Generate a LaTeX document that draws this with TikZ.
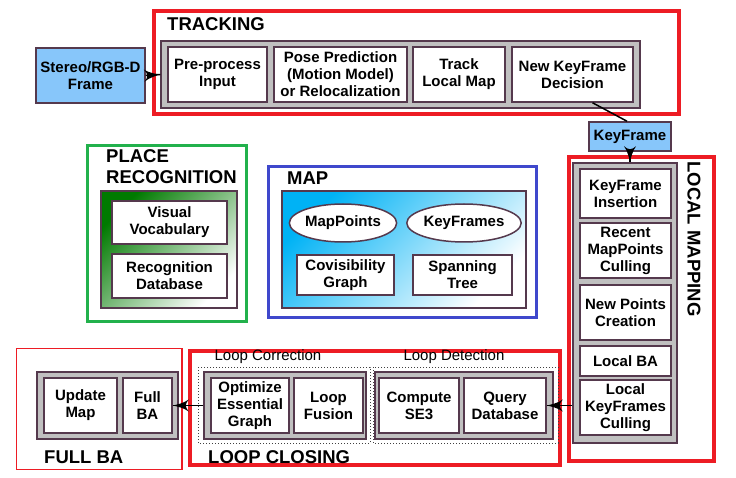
\documentclass[tikz,border=0pt]{standalone}
\usepackage{fontspec}
\setmainfont{Liberation Sans}
\usepackage{tikz}
\usetikzlibrary{arrows}
\usetikzlibrary{decorations.markings}
\usetikzlibrary{shapes.geometric}
\tikzset{->/.style = {decoration={markings,
                                  mark=at position 1 with {\arrow[scale=2.2]{latex'}}},
                      postaction={decorate}}}
\definecolor{mred}{RGB}{237, 28, 36}
\definecolor{mgreen}{RGB}{34, 177, 76}
\definecolor{mblue}{RGB}{63, 72, 204}
\definecolor{mframe}{RGB}{135, 198, 250}
\definecolor{mgray}{RGB}{192, 192, 192}
\definecolor{mborder}{RGB}{85, 57, 77}
\definecolor{mdgreen}{RGB}{0, 122, 0}
\definecolor{mcyan}{RGB}{0, 178, 245}
\tikzset{blk/.style = {draw = mborder, fill = white, line width = 1.5, align = center, inner sep = 0,
                       font = \fontsize{15}{17}\selectfont\bfseries}}
\tikzset{grp/.style = {draw = mborder, fill = mgray, line width = 1.5, inner sep = 0}}
\tikzset{ttl/.style = {font = \fontsize{18.5}{21}\selectfont\bfseries, align = left, inner sep = 0}}
\tikzset{sub/.style = {font = \fontsize{15}{17}\selectfont, inner sep = 0}}
\tikzset{con/.style = {line width = 1.5, black}}

\begin{document}
\begin{tikzpicture}[x = 1pt, y = -1pt]
      \useasboundingbox (0, 0) rectangle (736, 478);

      % tracking
      \draw [mred, line width = 4] (154, 11) rectangle (678.5, 114.5);
      \node [ttl, anchor = west] (trkt) at (167, 24) {TRACKING};
      \node [grp, minimum width = 479, minimum height = 67] (trk) at (400.5, 74.5) {};
      \node [blk, minimum width = 99, minimum height = 55] (pre) at (217.5, 74.5) {Pre-process\\Input};
      \node [blk, minimum width = 133, minimum height = 55] (pose) at (340.5, 74.5) {Pose Prediction\\(Motion Model)\\or Relocalization};
      \node [blk, minimum width = 92, minimum height = 55] (tlm) at (459, 74.5) {Track\\Local Map};
      \node [blk, minimum width = 121, minimum height = 55] (dec) at (572.5, 74.5) {New KeyFrame\\Decision};
      \node [blk, fill = mframe, minimum width = 109, minimum height = 55] (frame) at (90.5, 75.5) {Stereo/RGB-D\\Frame};
      \node [blk, fill = mframe, minimum width = 82, minimum height = 29] (kf) at (630, 136.5) {KeyFrame};

      % place recognition
      \draw [mgreen, line width = 3] (87.5, 145.5) rectangle (246.5, 321.5);
      \node [ttl, anchor = west] (prt) at (106, 167) {PLACE\\RECOGNITION};
      \node [grp, top color = mdgreen, bottom color = white, shading angle = 45,
             minimum width = 136, minimum height = 117] (pr) at (169, 249.5) {};
      \node [blk, minimum width = 115, minimum height = 43] (voc) at (169.5, 222.5) {Visual\\Vocabulary};
      \node [blk, minimum width = 115, minimum height = 44] (rdb) at (169.5, 276) {Recognition\\Database};

      % map
      \draw [mblue, line width = 3] (268.5, 166.5) rectangle (536.5, 317.5);
      \node [ttl, anchor = west] (mapt) at (287, 178) {MAP};
      \node [grp, top color = mcyan, bottom color = white, shading angle = 45,
             minimum width = 244, minimum height = 117] (map) at (404, 249.5) {};
      \node [blk, ellipse, minimum width = 107, minimum height = 38] (mp) at (343, 223) {MapPoints};
      \node [blk, ellipse, minimum width = 106, minimum height = 38] (kfs) at (464, 223) {KeyFrames};
      \node [blk, minimum width = 97, minimum height = 40] (cov) at (345.5, 275) {Covisibility\\Graph};
      \node [blk, minimum width = 99, minimum height = 40] (spt) at (462.5, 275) {Spanning\\Tree};

      % local mapping
      \draw [mred, line width = 4] (569, 157) rectangle (714, 461);
      \node [ttl, rotate = -90] (lmt) at (694, 239) {LOCAL MAPPING};
      \node [grp, minimum width = 104, minimum height = 280] (lm) at (625, 303) {};
      \node [blk, minimum width = 91, minimum height = 49] (kfi) at (625.5, 193.5) {KeyFrame\\Insertion};
      \node [blk, minimum width = 91, minimum height = 55] (rmc) at (625.5, 250.5) {Recent\\MapPoints\\Culling};
      \node [blk, minimum width = 91, minimum height = 55] (npc) at (625.5, 312.5) {New Points\\Creation};
      \node [blk, minimum width = 91, minimum height = 30] (lba) at (625.5, 361) {Local BA};
      \node [blk, minimum width = 91, minimum height = 55] (lkc) at (625.5, 407.5) {Local\\KeyFrames\\Culling};

      % loop closing
      \draw [mred, line width = 4] (190, 351) rectangle (560, 465);
      \node [ttl, anchor = west] (lct) at (208, 457) {LOOP CLOSING};
      \draw [dotted, line width = 1, gray!50!black] (198, 367) rectangle (370, 443);
      \draw [dotted, line width = 1, gray!50!black] (373, 367) rectangle (558, 443);
      \node [sub] (lcl) at (268, 357) {Loop Correction};
      \node [sub] (ldl) at (454, 357) {Loop Detection};
      \node [grp, minimum width = 162, minimum height = 67] (lc) at (285, 405.5) {};
      \node [blk, minimum width = 78, minimum height = 55] (oeg) at (250, 405.5) {Optimize\\Essential\\Graph};
      \node [blk, minimum width = 69, minimum height = 55] (lf) at (328.5, 405.5) {Loop\\Fusion};
      \node [grp, minimum width = 178, minimum height = 67] (ld) at (464, 405.5) {};
      \node [blk, minimum width = 80, minimum height = 55] (se3) at (419, 405.5) {Compute\\SE3};
      \node [blk, minimum width = 82, minimum height = 55] (qd) at (505, 405.5) {Query\\Database};

      % full ba
      \draw [mred, line width = 1.5] (16.5, 348.5) rectangle (182, 469.5);
      \node [ttl, anchor = west] (fbt) at (44, 457) {FULL BA};
      \node [grp, minimum width = 141, minimum height = 67] (fb) at (107.5, 405.5) {};
      \node [blk, minimum width = 73, minimum height = 55] (um) at (80.5, 405.5) {Update\\Map};
      \node [blk, minimum width = 49, minimum height = 55] (fba) at (147.5, 405.5) {Full\\BA};

      % connectors
      \draw [con, ->] (frame.east) -- (trk.west);
      \draw [con] ([xshift = 20]dec.south) -- ([xshift = -3]kf.north);
      \draw [con, ->] (kf.south) -- (kf.south |- lm.north);
      \draw [con, ->] (lm.west |- qd.east) -- (qd.east);
      \draw [con, ->] (lc.west) -- (fba.east);
    \end{tikzpicture}
\end{document}
